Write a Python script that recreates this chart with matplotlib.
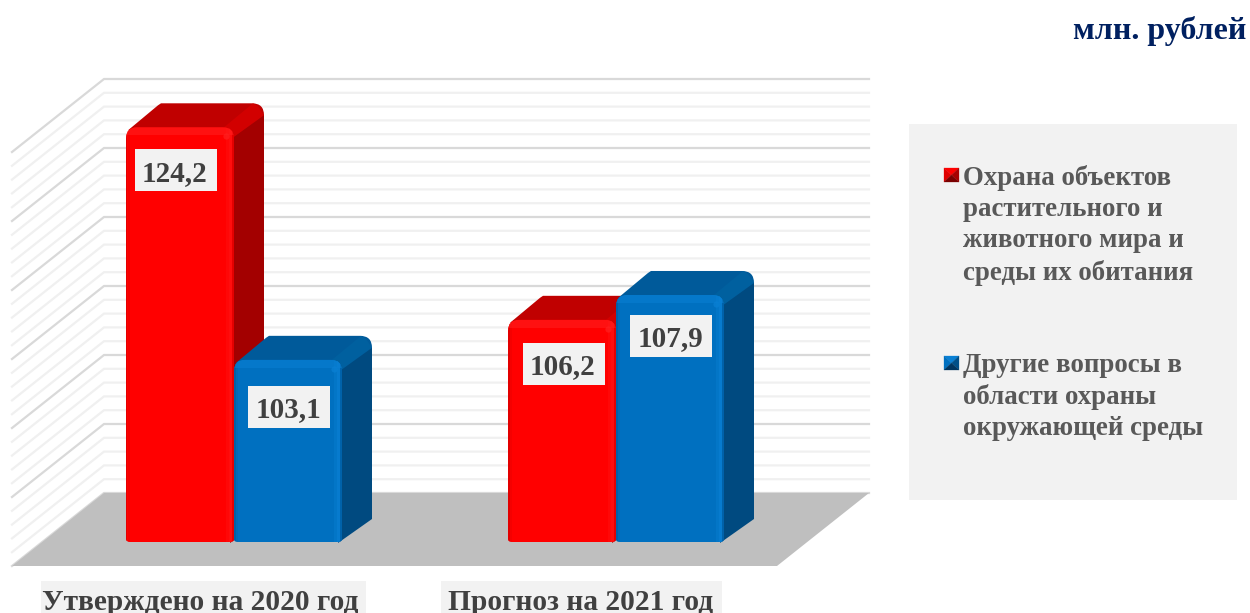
import matplotlib
matplotlib.use("Agg")
import matplotlib.pyplot as plt
from matplotlib.patches import Polygon, PathPatch, Rectangle
from matplotlib.path import Path

# ---- data ----
categories = ["Утверждено на 2020 год", "Прогноз на 2021 год"]
series_names = ["Охрана объектов\nрастительного и\nживотного мира и\nсреды их обитания",
                "Другие вопросы в\nобласти охраны\nокружающей среды"]
values_red = [124.2, 106.2]
values_blue = [103.1, 107.9]
# bar heights as drawn in the picture, in gridline intervals above the bar base
heights_red = [6.01, 3.22]
heights_blue = [2.64, 3.58]
unit_label = "млн. рублей"

# ---- layout (pixel scale of the axes) ----
W, H = 1250, 613
PX_X, PX_Y = 382.0, 69.0   # pixels per category / per grid interval
X0, Y0 = 234.0, 542.0      # pixel of category 0 / of the bar base
SERIF = "Liberation Serif"
BAR_W = 108 / PX_X

fig = plt.figure(figsize=(12.5, 6.13), dpi=100)
ax = fig.add_axes([0, 0, 1, 1])
ax.set_xlim(-X0 / PX_X, (W - X0) / PX_X)
ax.set_ylim(-(H - Y0) / PX_Y, Y0 / PX_Y)
ax.axis("off")


def dx(p):
    return p / PX_X


def dy(p):
    return p / PX_Y


# ---- walls and floor ----
WALL_L, WALL_R = dx(104 - X0), dx(869 - X0)
DEPTH_X, DEPTH_Y = dx(92), dy(73)
WALL_BASE = dy(Y0 - 493)
N_MAJOR, N_MINOR = 6, 5
for k in range(N_MAJOR * N_MINOR + 1):
    y = WALL_BASE + k / N_MINOR
    major = k % N_MINOR == 0
    c = "#d9d9d9" if major else "#f0f0f0"
    ax.plot([WALL_L - DEPTH_X, WALL_L, WALL_R], [y - DEPTH_Y, y, y], color=c, lw=1.6,
            solid_joinstyle="miter", zorder=1)
ax.add_patch(Polygon([(WALL_L - DEPTH_X, WALL_BASE - DEPTH_Y), (WALL_R - DEPTH_X, WALL_BASE - DEPTH_Y),
                      (WALL_R, WALL_BASE), (WALL_L, WALL_BASE)], fc="#bfbfbf", ec="none", zorder=2))


def front_path(x0, x1, h):
    rt_x, rt_y, rb_x, rb_y = dx(11), dy(11), dx(4), dy(3)
    v = [(x0 + rb_x, 0), (x1 - rb_x, 0), (x1, 0), (x1, rb_y), (x1, h - rt_y), (x1, h), (x1 - rt_x, h),
         (x0 + rt_x, h), (x0, h), (x0, h - rt_y), (x0, rb_y), (x0, 0), (x0 + rb_x, 0), (x0 + rb_x, 0)]
    c = [Path.MOVETO, Path.LINETO, Path.CURVE3, Path.CURVE3, Path.LINETO, Path.CURVE3, Path.CURVE3,
         Path.LINETO, Path.CURVE3, Path.CURVE3, Path.LINETO, Path.CURVE3, Path.CURVE3, Path.CLOSEPOLY]
    return Path(v, c)


# ---- 3D bars ----
def bar3d(x0, h, front, top, wedge, side, hi, lo, z, hi_a):
    x1 = x0 + BAR_W
    d_x, d_y = dx(30), dy(24)
    r_x, r_y = dx(12), dy(12)
    xb0 = x0 + dx(35)
    verts = [(x0 + dx(2), h - dy(3)), (xb0 - dx(3), h + d_y - dy(2)), (xb0, h + d_y), (x1 + d_x - r_x, h + d_y),
             (x1 + d_x, h + d_y), (x1 + d_x, h + d_y - r_y), (x1 + d_x, h - dy(20)),
             (x1, h - dy(20)), (x0 + dx(2), h - dy(3))]
    codes = [Path.MOVETO, Path.LINETO, Path.LINETO, Path.LINETO, Path.CURVE3, Path.CURVE3,
             Path.LINETO, Path.LINETO, Path.CLOSEPOLY]
    ax.add_patch(PathPatch(Path(verts, codes), fc=top, ec="none", zorder=z))
    ax.add_patch(Polygon([(x1 - dx(10), h), (x1 + dx(19), h + d_y), (x1 + dx(24), h + d_y - dy(3)),
                          (x1 + d_x, h + d_y - r_y), (x1, h - dy(10))], fc=wedge, ec="none", zorder=z))
    # side face
    ax.add_patch(Polygon([(x1 - dx(2), h - dy(11)), (x1 + d_x, h + d_y - r_y),
                          (x1 + d_x, d_y - dy(1)), (x1 - dx(4), -dy(1))], fc=side, ec="none", zorder=z))
    # front face
    f = PathPatch(front_path(x0, x1, h), fc=front, ec="none", zorder=z + 0.1)
    ax.add_patch(f)
    # bevels, clipped to the front face
    strips = [(x0, dx(1.5), lo, 0.45), (x0 + dx(1.5), dx(2.5), lo, 0.15),
              (x1 - dx(8), dx(3), hi, 0.4 * hi_a), (x1 - dx(5), dx(3), hi, 0.7 * hi_a),
              (x1 - dx(2), dx(2), lo, 0.4)]
    for sx, sw, c, a in strips:
        s = Rectangle((sx, 0), sw, h, fc=c, ec="none", alpha=a, zorder=z + 0.2)
        ax.add_patch(s)
        s.set_clip_path(f)
    s = Rectangle((x0, h - dy(8)), BAR_W, dy(8), fc=hi, ec="none", alpha=0.55, zorder=z + 0.2)
    ax.add_patch(s)
    s.set_clip_path(f)
    ax.plot([x1 - dx(8)], [h - dy(9)], "o", ms=4.5, color=hi, alpha=0.7, mew=0, zorder=z + 0.3)


RED = dict(front="#ff0000", top="#c00000", wedge="#d20000", side="#a30000", hi="#ff2020", lo="#c00000", hi_a=0.6)
BLUE = dict(front="#0070c0", top="#005a9a", wedge="#00609f", side="#004a80", hi="#0a80d4", lo="#004f8a", hi_a=1.0)

z = 3
for i in range(len(categories)):
    bar3d(i - BAR_W, heights_red[i], z=z, **RED)
    bar3d(i, heights_blue[i], z=z + 1, **BLUE)
    z += 2

# ---- value labels ----
box_w, box_h = dx(82), dy(42)
red_shift = [(-4, 43), (2, 44)]
blue_shift = [(1, 47), (1, 41)]
for i in range(len(categories)):
    for v, h, xc, (sx, sy) in [(values_red[i], heights_red[i], i - BAR_W / 2, red_shift[i]),
                               (values_blue[i], heights_blue[i], i + BAR_W / 2, blue_shift[i])]:
        cx, cy = xc + dx(sx), h - dy(sy)
        ax.add_patch(Rectangle((cx - box_w / 2, cy - box_h / 2), box_w, box_h, fc="#f2f2f2", ec="none", zorder=20))
        ax.text(cx - dx(1), cy, f"{v:.1f}".replace(".", ","), family=SERIF, weight="bold", fontsize=21,
                color="#404040", ha="center", va="center_baseline", zorder=21)

# ---- category labels ----
LAB_Y = dy(Y0 - 599)
for i, (name, bw, bc, tc) in enumerate(zip(categories, [325, 281], [203.5, 581.5], [200.5, 581])):
    cx = i + dx(bc - (X0 + i * PX_X))
    tx = i + dx(tc - (X0 + i * PX_X))
    ax.add_patch(Rectangle((cx - dx(bw) / 2, -(H - Y0) / PX_Y), dx(bw), dy(H - 581), fc="#f2f2f2", ec="none", zorder=5))
    ax.text(tx, LAB_Y, name, family=SERIF, weight="bold", fontsize=21.2, color="#404040",
            ha="center", va="center_baseline", zorder=6)


# ---- legend ----
def px(x, y):
    return dx(x - X0), dy(Y0 - y)


lx, ly = px(909, 500)
ax.add_patch(Rectangle((lx, ly), dx(328), dy(376), fc="#f2f2f2", ec="none", zorder=5))
for name, top_y, cols in [(series_names[0], 165, ("#ff0000", "#e00000", "#a80000", "#7a0000")),
                          (series_names[1], 353, ("#0a80d4", "#0070c0", "#004f88", "#003560"))]:
    ax.text(*px(963, top_y), name, family=SERIF, weight="bold", fontsize=19.4, color="#595959",
            ha="left", va="top", linespacing=1.32, zorder=6)
    m0, m1, my0, my1 = 944, 959, top_y + 3, top_y + 17
    c = ((m0 + m1) / 2, (my0 + my1) / 2)
    tl, tr, br, bl = (m0, my0), (m1, my0), (m1, my1), (m0, my1)
    for (a, b), col in zip([(tl, tr), (tl, bl), (tr, br), (bl, br)], cols):
        ax.add_patch(Polygon([px(*a), px(*b), px(*c)], fc=col, ec=col, lw=0.2, zorder=7))

# ---- unit label ----
ax.text(*px(1246, 28), unit_label, family=SERIF, weight="bold", fontsize=23, color="#002060",
        ha="right", va="center_baseline", zorder=6)

fig.savefig("out.png", dpi=100, facecolor="white")
